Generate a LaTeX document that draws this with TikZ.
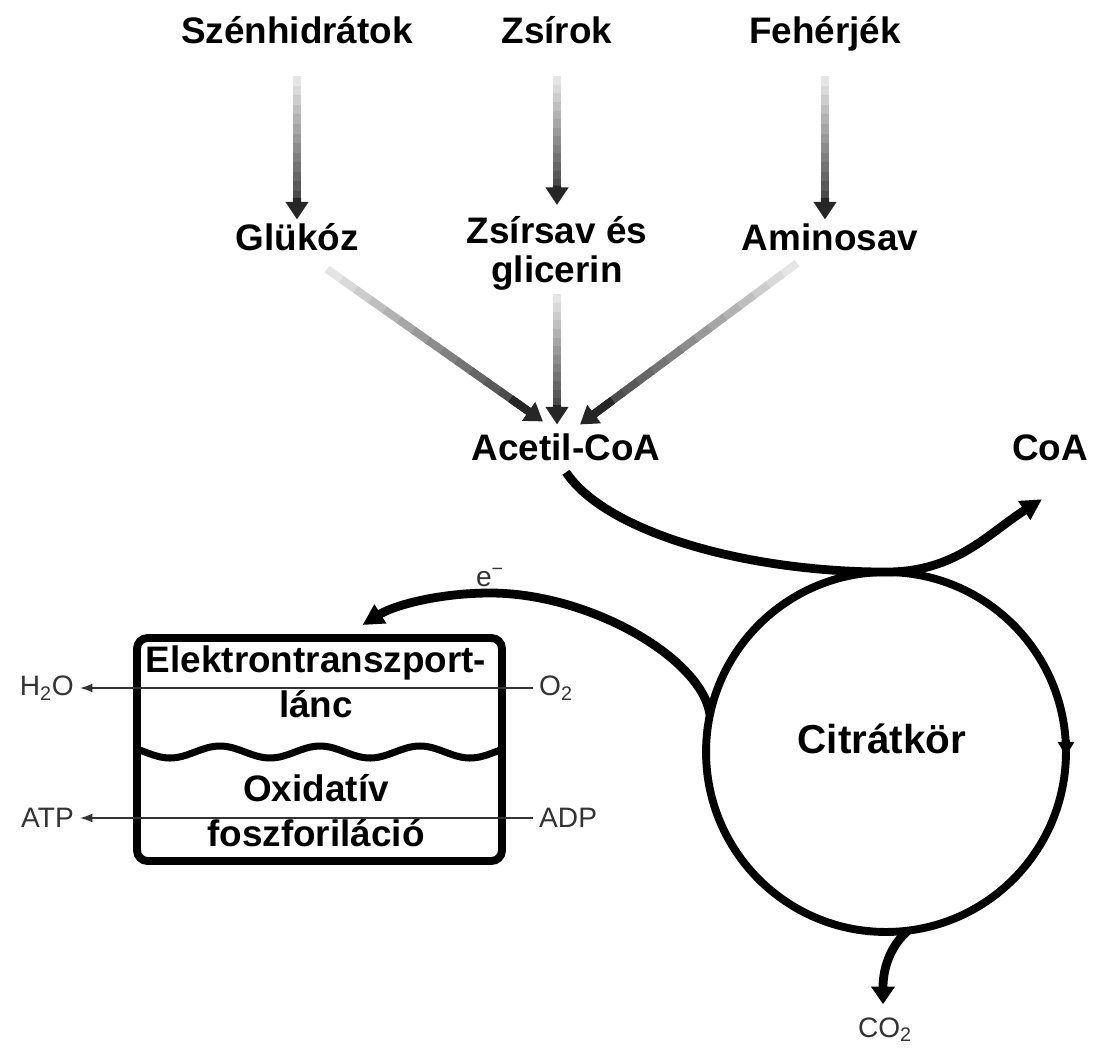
\documentclass[tikz,border=0pt]{standalone}
\usepackage{fontspec}
\setmainfont{Liberation Sans}
\usetikzlibrary{positioning}
\usetikzlibrary{calc}
\usetikzlibrary{arrows.meta}
\tikzset{
	food/.style={font=\fontsize{21}{21}\selectfont\bfseries, inner sep=0pt, anchor=base, text height=0.75em, text depth=0.22em},
	foodlines/.style={font=\fontsize{21}{22}\selectfont\bfseries, inner sep=0pt, align=center},
	boxtext/.style={font=\fontsize{21}{25.5}\selectfont\bfseries, inner sep=0pt, align=center, anchor=base},
	chem/.style={font=\fontsize{16}{16}\selectfont, text=black!80},
	% gradient feeding arrows
	feedline/.style={line width=4.6pt},
	feedtip/.style={line width=4.6pt, black!85, -{Triangle[length=10pt,width=12.5pt]}},
	flux/.style={line width=5pt, -{Triangle[length=12pt,width=12pt]}},
	trans/.style={line width=0.8pt, black!80, -{Latex[length=7pt,width=5pt]}}
}
\newcommand{\feed}[2]{%
	\coordinate (fs) at #1;
	\coordinate (fe) at #2;
	\foreach \k [evaluate=\k as \ink using int(10+5*\k)] in {0,...,13}
		\draw[feedline, black!\ink] ($(fs)!\k/15!(fe)$) -- ($(fs)!{(\k+1.1)/15}!(fe)$);
	\draw[feedtip] ($(fs)!0.85!(fe)$) -- (fe);
}

\begin{document}
\begin{tikzpicture}[x=0.02cm, y=-0.02cm]
	\useasboundingbox (0,0) rectangle (1098,1048);
	
	\node (szh) [food] at (297,43) {Szénhidrátok};
	\node (zsir) [food] at (557,43) {Zsírok};
	\node (feh) [food] at (825,43) {Fehérjék};
	
	\node (gluk) [food] at (297,250) {Glükóz};
	\node (zsirsav) [foodlines, anchor=north] at (557,216) {Zsírsav és\\glicerin};
	\node (amino) [food] at (830,250) {Aminosav};
	
	\node (acetil) [food] at (566,460) {Acetil-CoA};
	\node (coa) [food] at (1050,460) {CoA};
	
	\node (cit) [circle, draw, line width=4.5pt, outer sep=0pt, minimum size=7.2cm] at (886,752) {};
	\node (citlbl) [food, font=\fontsize{23}{23}\selectfont\bfseries] at (882,753) {Citrátkör};
	
	\node (etc) [draw, line width=4.5pt, rounded corners=6pt, outer sep=0pt, minimum width=7.3cm, minimum height=4.46cm] at (319.5,749.5) {};
	\node (elt) [boxtext] at (316,717) {Elektrontranszport-\\lánc};
	\node (oxf) [boxtext] at (316,846) {Oxidatív\\foszforiláció};
	\draw[line width=4pt] plot[domain=137:502, samples=90, smooth] (\x, {752+6*cos(3.6*(\x-170))});
	
	\node (h2o) [chem, anchor=east] at (80,688) {H\textsubscript{2}O};
	\node (o2) [chem, anchor=west] at (533,688) {O\textsubscript{2}};
	\node (atp) [chem, anchor=east] at (80,818) {ATP};
	\node (adp) [chem, anchor=west] at (533,818) {ADP};
	\node (co2) [chem, anchor=base] at (885,1037) {CO\textsubscript{2}};
	
	\coordinate (etop) at (490,593);
	\node (eminus) [chem, above=0pt of etop] {e\textsuperscript{−}};
	
	\feed{($(szh.south)+(0,29)$)}{($(gluk.north)+(0,-17)$)}
	\feed{($(zsir.south)+(0,29)$)}{($(zsirsav.north)+(0,-11)$)}
	\feed{($(feh.south)+(0,29)$)}{($(feh.south |- amino.north)+(0,-17)$)}
	
	\feed{($(gluk.south)+(30,15)$)}{($(acetil.north)+(-23,-25)$)}
	\feed{($(zsirsav.south)+(0,4)$)}{($(zsirsav.south |- acetil.north)+(0,-22)$)}
	\feed{($(amino.south)+(-33,9)$)}{($(acetil.north)+(14,-22)$)}
	
	\begin{scope}[black]
		\draw[flux] ($(acetil.south)+(0,8)$) .. controls +(40,60) and +(-140,0) .. (cit.north) .. controls +(70,0) and +(-55,35) .. ($(coa.south)+(-8,35)$);
		\draw[flux] (cit.168) .. controls +(-8,-56) and +(100,0) .. (etop) .. controls +(-50,0) and +(32,-20) .. ($(etc.north)+(43,-13)$);
		\draw[flux, -{Triangle[length=10pt,width=13pt]}] (cit.-83) .. controls +(-15,13) and +(0,-40) .. ($(co2.north)+(-2,-7)$);
		\draw[line width=4.5pt, -{Triangle[length=8pt,width=9pt]}] ($(cit.east)+(0,-12)$) -- ++(0,16);
	\end{scope}
	
	\draw[trans] (o2.west) -- (h2o.east);
	\draw[trans] (adp.west) -- (atp.east);
\end{tikzpicture}
\end{document}
